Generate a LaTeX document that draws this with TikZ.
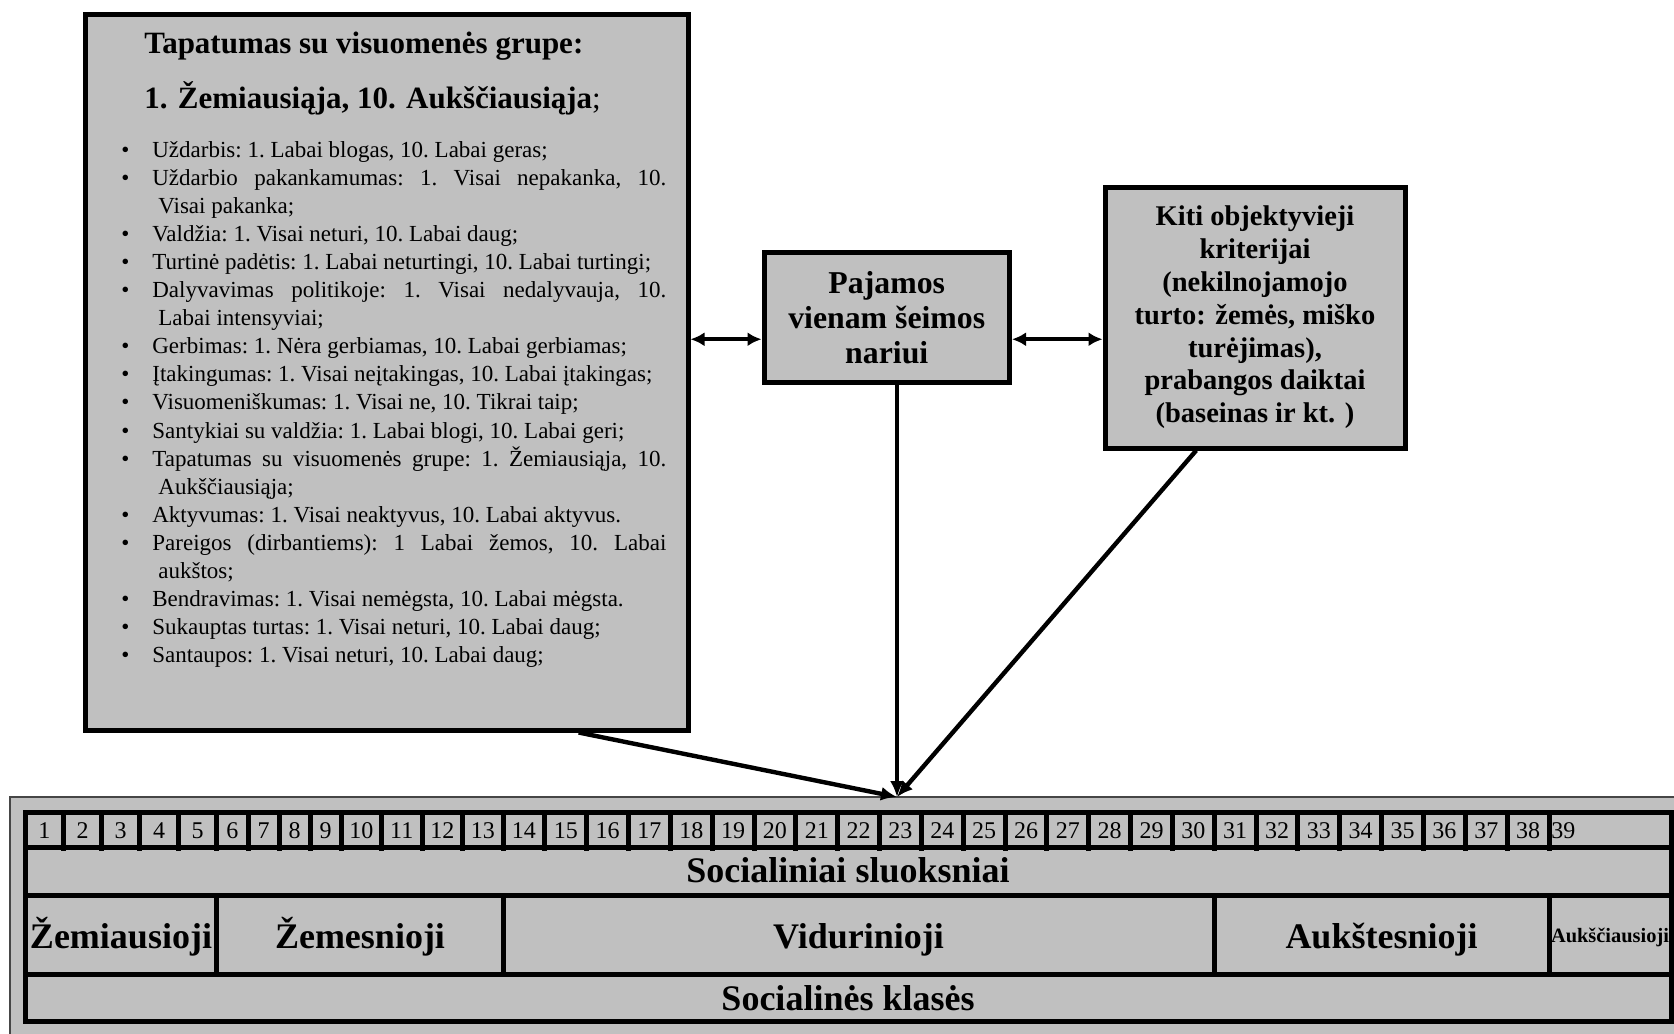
\documentclass[tikz,border=0pt]{standalone}
\usepackage{fontspec}
\setmainfont{Liberation Serif}
\usetikzlibrary{arrows.meta,calc}
\definecolor{boxgray}{RGB}{192,192,192}
\newcommand\bul{\noindent\hangindent=15.5pt\hangafter=1\makebox[15.5pt][l]{\textbullet}}
\newcommand\itm{\par\bul}

\begin{document}
\begin{tikzpicture}[x=0.5pt,y=-0.5pt,
		box/.style={draw,line width=2.5pt,fill=boxgray,inner sep=0pt},
		rule/.style={line width=2.5pt},
		arr/.style={line width=2.2pt,-{Latex[length=8pt,width=7pt]}},
		darr/.style={line width=2.2pt,{Latex[length=7pt,width=7pt]}-{Latex[length=7pt,width=7pt]}},
		num/.style={inner sep=0pt,anchor=base,font=\fontsize{12}{14}\selectfont},
		lbl/.style={inner sep=0pt,anchor=base,font=\fontsize{18}{21}\selectfont\bfseries}]
			\clip (0,0) rectangle (1674,1033);
			\fill[white] (0,0) rectangle (1674,1033);
			\node[box,minimum width=301.5pt,minimum height=358pt] (lbox) at (386.5,372) {};
			\node[box,minimum width=122.75pt,minimum height=64.75pt,align=center,
				font=\fontsize{15.9}{17.5}\selectfont\bfseries] (mbox) at (886.75,317.25)
				{Pajamos\\vienam šeimos\\nariui};
			\node[box,minimum width=150pt,minimum height=130.5pt,align=center,
				font=\fontsize{14.25}{16.4}\selectfont\bfseries] (rbox) at (1255,317.5)
				{Kiti objektyvieji\\kriterijai\\(nekilnojamojo\\turto: žemės, miško\\turėjimas),\\prabangos daiktai\\(baseinas ir kt. )};
			\node[inner sep=0pt,anchor=base west,font=\fontsize{15.5}{18}\selectfont\bfseries] (t1) at (144,53)
				{Tapatumas su visuomenės grupe:};
			\node[inner sep=0pt,anchor=base west,font=\fontsize{15.5}{18}\selectfont\bfseries] (t2) at (144,108)
				{1. Žemiausiąja, 10. Aukščiausiąja{\mdseries;}};
			\node[inner sep=0pt,anchor=base west,text width=272.5pt,align=justify,
				font=\fontsize{11.5}{14.05}\selectfont] (list) at (121,157) {%
				\frenchspacing\hyphenpenalty=10000\exhyphenpenalty=10000\tolerance=10000\parindent=0pt
				\bul Uždarbis: 1. Labai blogas, 10. Labai geras;
				\itm Uždarbio pakankamumas: 1. Visai nepakanka, 10.\linebreak\hspace*{3pt}Visai pakanka;
				\itm Valdžia: 1. Visai neturi, 10. Labai daug;
				\itm Turtinė padėtis: 1. Labai neturtingi, 10. Labai turtingi;
				\itm Dalyvavimas politikoje: 1. Visai nedalyvauja, 10.\linebreak\hspace*{3pt}Labai intensyviai;
				\itm Gerbimas: 1. Nėra gerbiamas, 10. Labai gerbiamas;
				\itm Įtakingumas: 1. Visai neįtakingas, 10. Labai įtakingas;
				\itm Visuomeniškumas: 1. Visai ne, 10. Tikrai taip;
				\itm Santykiai su valdžia: 1. Labai blogi, 10. Labai geri;
				\itm Tapatumas su visuomenės grupe: 1. Žemiausiąja, 10.\linebreak\hspace*{3pt}Aukščiausiąja;
				\itm Aktyvumas: 1. Visai neaktyvus, 10. Labai aktyvus.
				\itm Pareigos (dirbantiems): 1 Labai žemos, 10. Labai\linebreak\hspace*{3pt}aukštos;
				\itm Bendravimas: 1. Visai nemėgsta, 10. Labai mėgsta.
				\itm Sukauptas turtas: 1. Visai neturi, 10. Labai daug;
				\itm Santaupos: 1. Visai neturi, 10. Labai daug;\par};
			\draw[line width=1pt,draw=gray!55!black,fill=boxgray] (10,797) rectangle (1700,1045);
			\draw[rule] (25.5,812.5) rectangle (1671,1021.5);
			\foreach \y in {847.5,895.5,974.5} \draw[rule] (25.5,\y) -- (1671,\y);
			\foreach \x in {63.5,101.5,139.5,178.5,216.5,248,279,310,341,381.5,422,462.5} \draw[rule] (\x,812.5) -- (\x,851);
			\foreach \k in {0,...,25} \draw[rule] ({503+41.84*\k},812.5) -- ++(0,38.5);
			\foreach \x in {216.5,503,1214,1549} \draw[rule] (\x,895.5) -- (\x,974.5);
			\foreach \n/\x in {1/44.5,2/82.5,3/120.5,4/159,5/197.5,6/232.25,7/263.5,8/294.5,9/325.5,10/361.25,11/401.75,12/442.25,13/482.75}
				\node[num] (n\n) at (\x,838) {\n};
			\foreach \n in {14,...,38} \node[num] (n\n) at ({503+41.84*(\n-14)+20.92},838) {\n};
			\node[num,anchor=base west] (n39) at (1551,838) {39};
			\node[lbl] (sluoksniai) at (848,882) {Socialiniai sluoksniai};
			\node[lbl] (klases) at (848,1010) {Socialinės klasės};
			\node[lbl] (zemiausioji) at (121,948) {Žemiausioji};
			\node[lbl] (zemesnioji) at (360,948) {Žemesnioji};
			\node[lbl] (vidurinioji) at (858.5,948) {Vidurinioji};
			\node[lbl] (aukstesnioji) at (1381.5,948) {Aukštesnioji};
			\node[lbl,font=\fontsize{10.2}{12}\selectfont\bfseries] (auksciausioji) at (1610,942) {Aukščiausioji};
			\coordinate (hit) at (897,797);
			\coordinate (ml) at ([yshift=-11pt]mbox.west);
			\coordinate (mr) at ([yshift=-11pt]mbox.east);
			\draw[darr] (lbox.east |- ml) -- (ml);
			\draw[darr] (mr) -- (rbox.west |- mr);
			\draw[arr] ($(lbox.south west)!0.816!(lbox.south east)$) -- (hit);
			\draw[arr] (mbox.south -| hit) -- (hit);
			\draw[arr] ($(rbox.south west)!0.307!(rbox.south east)$) -- (hit);
		\end{tikzpicture}
\end{document}
